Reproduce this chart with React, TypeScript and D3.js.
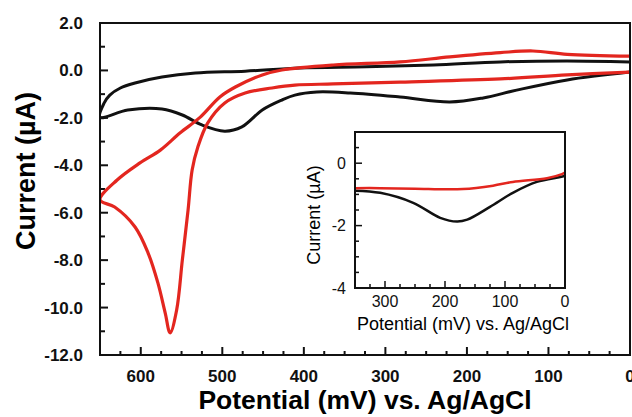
import React from 'react';
import * as d3 from 'd3';

// main CV: potential (mV) and current (µA), each sweep
const blackFwdMv = [0, 77, 139, 180, 221, 282, 343, 384, 411, 427, 451, 476, 497, 525, 549, 574, 616, 650];
const blackFwdI = [-0.07, -0.4, -0.83, -1.16, -1.33, -1.12, -0.95, -0.91, -1.04, -1.25, -1.67, -2.38, -2.56, -2.3, -1.88, -1.63, -1.67, -1.97];
const blackRevMv = [650, 645, 638, 625, 607, 574, 533, 472, 405, 323, 241, 159, 77, 0];
const blackRevI = [-1.97, -1.38, -1.04, -0.74, -0.53, -0.28, -0.11, -0.03, 0.1, 0.15, 0.23, 0.36, 0.4, 0.36];

const redFwdMv = [0, 77, 159, 282, 364, 411, 439, 472, 497, 518, 530, 537, 542, 549, 556, 564, 570, 579, 591, 607, 632, 650];
const redFwdI = [-0.07, -0.19, -0.36, -0.49, -0.57, -0.62, -0.74, -0.95, -1.37, -2.22, -3.23, -4.2, -5.89, -7.99, -10.1, -11.07, -10.23, -8.96, -7.7, -6.6, -5.76, -5.46];
const redRevMv = [650, 629, 601, 576, 552, 527, 503, 484, 451, 427, 364, 282, 221, 159, 119, 77, 0];
const redRevI = [-5.46, -4.62, -3.9, -3.36, -2.64, -1.97, -1.12, -0.7, -0.19, 0.02, 0.23, 0.36, 0.57, 0.75, 0.82, 0.68, 0.6];

// inset
const insetBlackMv = [350, 308, 253, 208, 180, 163, 125, 87, 47, 8, 0];
const insetBlackI = [-0.88, -0.95, -1.27, -1.75, -1.87, -1.81, -1.4, -0.95, -0.6, -0.44, -0.4];
const insetRedMv = [350, 308, 250, 170, 120, 87, 30, 5, 0];
const insetRedI = [-0.8, -0.8, -0.82, -0.83, -0.72, -0.6, -0.48, -0.35, -0.3];

const mainXTicks = [600, 500, 400, 300, 200, 100, 0];
const mainYTicks = [2, 0, -2, -4, -6, -8, -10, -12];
const insetXTicks = [300, 200, 100, 0];
const insetYTicks = [0, -2, -4];

const RED = '#e3261f';
const BLACK = '#111';
const FONT = 'Arial, "Liberation Sans", Helvetica, sans-serif';

const zip = (xs: number[], ys: number[]) => xs.map((x, i) => [x, ys[i]] as [number, number]);

export default function App() {
  const W = 632, H = 417;
  const m = { left: 100, right: 630, top: 23, bottom: 355 };
  const x = d3.scaleLinear().domain([650, 0]).range([m.left, m.right]);
  const y = d3.scaleLinear().domain([2, -12]).range([m.top, m.bottom]);

  const ins = { left: 355, right: 565, top: 132, bottom: 288 };
  const ix = d3.scaleLinear().domain([350, 0]).range([ins.left, ins.right]);
  const iy = d3.scaleLinear().domain([1, -4]).range([ins.top, ins.bottom]);

  const line = d3.line<[number, number]>()
    .x(d => x(d[0])).y(d => y(d[1]))
    .curve(d3.curveCatmullRom.alpha(0.5));
  const iline = d3.line<[number, number]>()
    .x(d => ix(d[0])).y(d => iy(d[1]))
    .curve(d3.curveCatmullRom.alpha(0.5));

  const blackLoop = zip(blackFwdMv, blackFwdI).concat(zip(blackRevMv, blackRevI).slice(1));
  const redLoop = zip(redFwdMv, redFwdI).concat(zip(redRevMv, redRevI).slice(1));

  const xMinor = d3.range(0, 651, 25);
  const yMinor = d3.range(-12, 2.01, 1);
  const ixMinor = d3.range(0, 351, 25);
  const iyMinor = d3.range(-4, 1.01, 0.5);

  return (
    <svg width={W} height={H} style={{ position: 'absolute', left: 0, top: 0, background: '#fff' }}
      fontFamily={FONT}>
      <defs>
        <clipPath id="plot">
          <rect x={m.left} y={m.top} width={m.right - m.left} height={m.bottom - m.top} />
        </clipPath>
      </defs>
      {/* main ticks, pointing inward */}
      <g stroke={BLACK} strokeWidth={2}>
        {xMinor.map(v => (
          <line key={'xm' + v} x1={x(v)} x2={x(v)} y1={m.bottom}
            y2={m.bottom - (v % 100 === 0 ? 8 : 4)} />
        ))}
        {yMinor.map(v => (
          <line key={'ym' + v} x1={m.left} x2={m.left + (v % 2 === 0 ? 8 : 5)} y1={y(v)} y2={y(v)} />
        ))}
      </g>

      <g clipPath="url(#plot)">
        <path d={line(blackLoop)!} fill="none" stroke={BLACK} strokeWidth={3} strokeLinejoin="round" />
        <path d={line(redLoop)!} fill="none" stroke={RED} strokeWidth={3.2} strokeLinejoin="round" />
      </g>

      <rect x={m.left} y={m.top} width={m.right - m.left} height={m.bottom - m.top}
        fill="none" stroke={BLACK} strokeWidth={2} />

      <g fontWeight="bold" fontSize={17} fill={BLACK}>
        {mainXTicks.map(v => (
          <text key={'xl' + v} x={x(v)} y={382} textAnchor="middle">{v}</text>
        ))}
        {mainYTicks.map(v => (
          <text key={'yl' + v} x={83} y={y(v)} dy="0.35em" textAnchor="end">{d3.format('.1f')(v).replace('−', '-')}</text>
        ))}
      </g>
      <text x={365} y={409} textAnchor="middle" fontWeight="bold" fontSize={26.5}>Potential (mV) vs. Ag/AgCl</text>
      <text transform="translate(35,171) rotate(-90)" textAnchor="middle" fontWeight="bold" fontSize={27}>Current (µA)</text>

      {/* inset */}
      <rect x={ins.left} y={ins.top} width={ins.right - ins.left} height={ins.bottom - ins.top} fill="#fff" />
      <g stroke={BLACK} strokeWidth={1.5}>
        {ixMinor.map(v => (
          <line key={'ixm' + v} x1={ix(v)} x2={ix(v)} y1={ins.bottom}
            y2={ins.bottom - (v % 100 === 0 ? 7 : 4)} />
        ))}
        {iyMinor.map(v => (
          <line key={'iym' + v} x1={ins.left} x2={ins.left + (v % 2 === 0 ? 7 : 4)} y1={iy(v)} y2={iy(v)} />
        ))}
      </g>
      <path d={iline(zip(insetBlackMv, insetBlackI))!} fill="none" stroke={BLACK} strokeWidth={2.5} />
      <path d={iline(zip(insetRedMv, insetRedI))!} fill="none" stroke={RED} strokeWidth={2.5} />
      <rect x={ins.left} y={ins.top} width={ins.right - ins.left} height={ins.bottom - ins.top}
        fill="none" stroke={BLACK} strokeWidth={2} />
      <g fontSize={16} fill={BLACK}>
        {insetXTicks.map(v => (
          <text key={'ixl' + v} x={ix(v)} y={307} textAnchor="middle">{v}</text>
        ))}
        {insetYTicks.map(v => (
          <text key={'iyl' + v} x={346} y={iy(v)} dy="0.35em" textAnchor="end">{String(v)}</text>
        ))}
      </g>
      <text x={463} y={330} textAnchor="middle" fontSize={18}>Potential (mV) vs. Ag/AgCl</text>
      <text transform="translate(320,215) rotate(-90)" textAnchor="middle" fontSize={18}>Current (µA)</text>
    </svg>
  );
}
